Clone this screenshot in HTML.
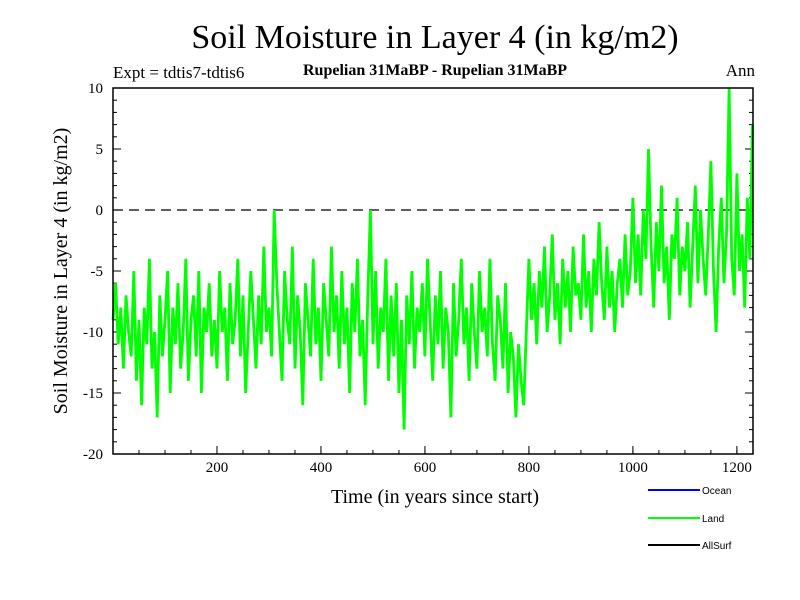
<!DOCTYPE html>
<html><head><meta charset="utf-8"><style>
body{margin:0;background:#fff;}
svg{display:block;font-family:"Liberation Serif",serif;}
</style></head><body>
<svg id="chart" width="800" height="600">
<text x="435" y="48" font-size="34" text-anchor="middle">Soil Moisture in Layer 4 (in kg/m2)</text>
<text x="113" y="78" font-size="17">Expt = tdtis7-tdtis6</text>
<text x="435" y="75" font-size="16" font-weight="bold" text-anchor="middle">Rupelian  31MaBP - Rupelian  31MaBP</text>
<text x="755" y="76" font-size="17" text-anchor="end">Ann</text>
<text transform="translate(67,271) rotate(-90)" font-size="20" text-anchor="middle">Soil Moisture in Layer 4 (in kg/m2)</text>
<text x="435" y="503" font-size="20" text-anchor="middle">Time (in years since start)</text>
<g id="ticks"></g>
<g id="plot"></g>
<rect x="113" y="88" width="640" height="366" fill="none" stroke="#000" stroke-width="1.5"/>
<g font-family="Liberation Sans,sans-serif" font-size="10">
<line x1="648" y1="490" x2="700" y2="490" stroke="#0000ff" stroke-width="2"/>
<text x="702" y="494">Ocean</text>
<line x1="648" y1="518" x2="700" y2="518" stroke="#00ff00" stroke-width="2"/>
<text x="702" y="522">Land</text>
<line x1="648" y1="545" x2="700" y2="545" stroke="#000" stroke-width="2"/>
<text x="702" y="549">AllSurf</text>
</g>
</svg>
<script>
const startYear = 0;
const yearStep = 5;
const landValues = [
-9,-6,-11,-8,-13,-7,-10,-12,-5,-14,-9,-16,-8,-11,-4,-13,-10,-17,-7,-12,
-9,-5,-15,-8,-11,-6,-13,-10,-4,-14,-9,-7,-12,-5,-15,-8,-10,-6,-12,-9,
-13,-5,-10,-8,-14,-6,-11,-9,-4,-12,-7,-15,-10,-5,-9,-13,-7,-11,-3,-10,
-8,-12,0,-6,-10,-14,-5,-9,-11,-3,-13,-7,-10,-16,-6,-9,-12,-4,-11,-8,
-14,-6,-9,-12,-3,-10,-7,-13,-5,-11,-8,-15,-6,-10,-4,-12,-9,-16,-7,0,
-11,-5,-13,-8,-10,-4,-14,-7,-12,-6,-15,-9,-18,-7,-11,-5,-13,-8,-10,-6,
-12,-4,-9,-14,-7,-11,-5,-13,-8,-10,-17,-6,-12,-9,-4,-11,-8,-14,-6,-10,
-13,-5,-10,-8,-12,-4,-11,-14,-7,-9,-13,-6,-15,-10,-12,-17,-11,-14,-16,-10,
-4,-9,-6,-11,-5,-8,-3,-10,-7,-2,-9,-6,-11,-4,-8,-5,-10,-3,-7,-6,
-9,-2,-8,-5,-10,-4,-7,-1,-6,-9,-3,-8,-5,-10,-6,-4,-8,-2,-7,-5,
1,-6,-2,-7,0,-4,5,-3,-8,-1,-5,2,-6,-3,-9,-2,-4,1,-7,-3,
-5,-1,-8,-3,2,-6,0,-4,-7,-2,4,-5,-10,-3,1,-6,-2,10,-4,-7,
3,-5,-2,-8,1,-4,7];
const xTickValues = [200,400,600,800,1000,1200];
const yTickValues = [10,5,0,-5,-10,-15,-20];
const NS='http://www.w3.org/2000/svg';
const X0=113,X1=753,Y0=88,Y1=454,XMAX=1231,YMIN=-20,YMAX=10;
const xs=v=>X0+(v-0)/(XMAX-0)*(X1-X0);
const ys=v=>Y1-(v-YMIN)/(YMAX-YMIN)*(Y1-Y0);
const ticks=document.getElementById('ticks'),plot=document.getElementById('plot');
function mk(t,a,p){const e=document.createElementNS(NS,t);for(const k in a)e.setAttribute(k,a[k]);p.appendChild(e);return e;}
xTickValues.forEach(v=>{
 const l=mk('line',{x1:xs(v),x2:xs(v),y1:Y1,y2:Y1-8,stroke:'#000'},ticks);
 
 
 const t=mk('text',{x:xs(v),y:Y1+18,'font-size':15,'text-anchor':'middle'},ticks);
 t.textContent=v;
 
 
});
for(let v=50;v<XMAX;v+=50){const l=mk('line',{x1:xs(v),x2:xs(v),y1:Y1,y2:Y1-4,stroke:'#000'},ticks);
 
 }
yTickValues.forEach(v=>{
 [[X0,X0+8],[X1,X1-8]].forEach(p=>{const l=mk('line',{x1:p[0],x2:p[1],y1:ys(v),y2:ys(v),stroke:'#000'},ticks);
 
 });
 const t=mk('text',{x:X0-10,y:ys(v)+5,'font-size':15,'text-anchor':'end'},ticks);
 t.textContent=v;
 
 
});
for(let v=-19;v<10;v++){if(v%5===0)continue;[[X0,X0+4],[X1,X1-4]].forEach(p=>{const l=mk('line',{x1:p[0],x2:p[1],y1:ys(v),y2:ys(v),stroke:'#000'},ticks);
 
 });}
const z=mk('line',{x1:X0,x2:X1,y1:ys(0),y2:ys(0),stroke:'#000','stroke-width':1.3,'stroke-dasharray':'10,6'},plot);


const pts=landValues.map((v,i)=>xs(startYear+i*yearStep).toFixed(1)+','+ys(v).toFixed(1)).join(' ');
const pl=mk('polyline',{points:pts,fill:'none',stroke:'#00ff00','stroke-width':2.8,'stroke-linejoin':'miter'},plot);


</script>
</body></html>
